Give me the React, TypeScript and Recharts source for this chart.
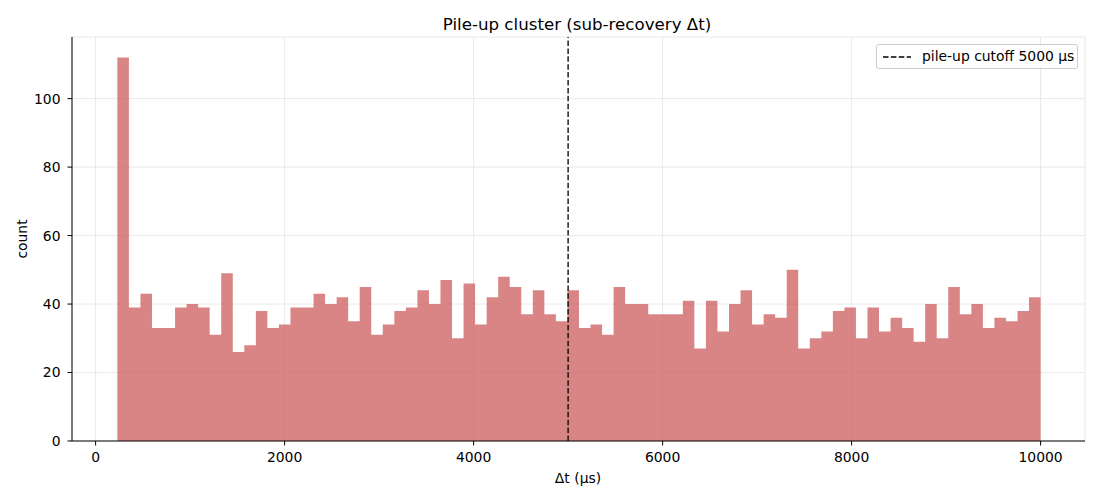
import React from 'react';
import {
  ComposedChart,
  Area,
  XAxis,
  YAxis,
  CartesianGrid,
  ReferenceLine,
  Legend,
} from 'recharts';

// ---- data ----
const binStart = 230;
const binEnd = 10000;
const counts = [
  112, 39, 43, 33, 33, 39, 40, 39, 31, 49,
  26, 28, 38, 33, 34, 39, 39, 43, 40, 42,
  35, 45, 31, 34, 38, 39, 44, 40, 47, 30,
  46, 34, 42, 48, 45, 37, 44, 37, 35, 44,
  33, 34, 31, 45, 40, 40, 37, 37, 37, 41,
  27, 41, 32, 40, 44, 34, 37, 36, 50, 27,
  30, 32, 38, 39, 30, 39, 32, 36, 33, 29,
  40, 30, 45, 37, 40, 33, 36, 35, 38, 42,
];
const xTicks = [0, 2000, 4000, 6000, 8000, 10000];
const yTicks = [0, 20, 40, 60, 80, 100];
const cutoff = 5000;
const titleText = 'Pile-up cluster (sub-recovery Δt)';
const xLabel = 'Δt (μs)';
const yLabel = 'count';
const legendText = 'pile-up cutoff 5000 μs';

const binWidth = (binEnd - binStart) / counts.length;
// step-after histogram: one point per left bin edge, plus closing right edge
const histData = [
  ...counts.map((c, i) => ({ x: binStart + i * binWidth, count: c })),
  { x: binEnd, count: counts[counts.length - 1] },
];

const FONT = '"DejaVu Sans", sans-serif';

const LegendBox = () => (
  <div
    style={{
      width: 200,
      height: 23,
      border: '1px solid #cccccc',
      borderRadius: 3,
      background: 'rgba(255,255,255,0.8)',
      position: 'relative',
      fontFamily: FONT,
      fontSize: 13.9,
      color: '#000',
    }}
  >
    <svg width={40} height={23} style={{ position: 'absolute', left: 0, top: 0 }}>
      <line x1={6} y1={12} x2={34} y2={12} stroke="#000" strokeWidth={1.5} strokeDasharray="5.5 2.4" />
    </svg>
    <span style={{ position: 'absolute', left: 45, top: 3, whiteSpace: 'nowrap', lineHeight: '16px' }}>
      {legendText}
    </span>
  </div>
);

export default function App() {
  return (
    <div style={{ position: 'absolute', left: 0, top: 0, width: 1100, height: 500, background: '#fff' }}>
      <ComposedChart
        width={1100}
        height={500}
        data={histData}
        margin={{ top: 37, right: 15, bottom: 15, left: 0 }}
        style={{ fontFamily: FONT }}
      >
        <CartesianGrid stroke="#e3e3e3" strokeWidth={0.8} horizontal vertical />
        <XAxis
          dataKey="x"
          type="number"
          domain={[-250, 10470]}
          ticks={xTicks}
          allowDataOverflow
          height={44}
          axisLine={{ stroke: '#000', strokeWidth: 1 }}
          tickLine={{ stroke: '#000', strokeWidth: 1 }}
          tickSize={4.5}
          tickMargin={7}
          tick={{ fill: '#000', fontSize: 13.9, fontFamily: FONT }}
        />
        <YAxis
          type="number"
          domain={[0, 118]}
          ticks={yTicks}
          allowDataOverflow
          width={72}
          axisLine={{ stroke: '#000', strokeWidth: 1 }}
          tickLine={{ stroke: '#000', strokeWidth: 1 }}
          tickSize={4.5}
          tickMargin={7}
          tick={{ fill: '#000', fontSize: 13.9, fontFamily: FONT }}
        />
        <Area
          dataKey="count"
          type="stepAfter"
          fill="#cd5c5c"
          fillOpacity={0.75}
          stroke="none"
          isAnimationActive={false}
          dot={false}
          activeDot={false}
        />
        <ReferenceLine
          x={cutoff}
          stroke="#000"
          strokeWidth={1.3}
          strokeDasharray="5.5 2.4"
        />
        <Legend
          content={() => <LegendBox />}
          layout="horizontal"
          verticalAlign="middle"
          align="center"
          wrapperStyle={{ top: 44, left: 876, right: 'auto', bottom: 'auto', width: 'auto', height: 'auto' }}
        />
        <text x={577} y={29.5} textAnchor="middle" fontSize={16.67} fontFamily={FONT} fill="#000">
          {titleText}
        </text>
        <text x={578} y={482.5} textAnchor="middle" fontSize={13.9} fontFamily={FONT} fill="#000">
          {xLabel}
        </text>
        <text
          x={26.5}
          y={239}
          textAnchor="middle"
          fontSize={13.9}
          fontFamily={FONT}
          fill="#000"
          transform="rotate(-90 26.5 239)"
        >
          {yLabel}
        </text>
      </ComposedChart>
    </div>
  );
}
